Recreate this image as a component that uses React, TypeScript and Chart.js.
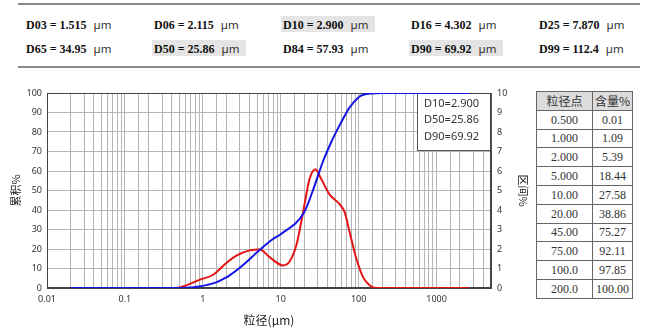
import React, { useEffect, useRef } from 'react';
import { Chart, registerables } from 'chart.js';

Chart.register(...registerables);

// ---- Data ----
// Cumulative curve (粒径 µm -> 累积 %)
const cumSizes = [0.02, 0.45, 0.5, 1, 1.515, 2, 2.115, 2.9, 4.302, 5, 7.87, 10, 20, 25.86, 34.95, 45, 57.93, 69.92, 75, 100, 112.4, 200, 2650];
const cumValues = [0, 0, 0.01, 1.09, 3, 5.39, 6, 10, 16, 18.44, 25, 27.58, 38.86, 50, 65, 75.27, 84, 90, 92.11, 97.85, 99, 100, 100];

// Interval curve (粒径 µm -> 区间 %)
const freqSizes = [0.02, 0.46, 0.6, 0.92, 1.36, 2.0, 2.7, 4.0, 5.4, 7.2, 10.7, 13, 15.9, 19.4, 23.5, 27.9, 33, 42.3, 56.9, 66, 76.7, 93.6, 114, 138, 168, 2650];
const freqValues = [0, 0, 0.12, 0.43, 0.68, 1.28, 1.66, 1.93, 1.97, 1.58, 1.16, 1.36, 2.2, 3.9, 5.6, 6.09, 5.6, 4.8, 4.3, 3.9, 2.86, 1.5, 0.56, 0.14, 0, 0];

const xTickLabels = ['0.01', '0.1', '1', '10', '100', '1000'];
const legendLines = ['D10=2.900', 'D50=25.86', 'D90=69.92'];

const row1Names = ['D03', 'D06', 'D10', 'D16', 'D25'];
const row1Values = ['1.515', '2.115', '2.900', '4.302', '7.870'];
const row2Names = ['D65', 'D50', 'D84', 'D90', 'D99'];
const row2Values = ['34.95', '25.86', '57.93', '69.92', '112.4'];
const highlightNames = ['D10', 'D50', 'D90'];

const tableHeader = ['粒径点', '含量%'];
const tableSizes = ['0.500', '1.000', '2.000', '5.000', '10.00', '20.00', '45.00', '75.00', '100.0', '200.0'];
const tableContents = ['0.01', '1.09', '5.39', '18.44', '27.58', '38.86', '75.27', '92.11', '97.85', '100.00'];

const CJK = '"Noto Sans CJK SC", "Noto Sans", sans-serif';
const SANS = '"Noto Sans", "DejaVu Sans", sans-serif';
const SERIF = '"Liberation Serif", "Times New Roman", serif';

const framePlugin = {
  id: 'framePlugin',
  beforeDatasetsDraw(chart: any) {
    const { ctx, chartArea } = chart;
    const { left, top, right, bottom } = chartArea;
    ctx.save();
    // legend box
    const bw = 74;
    const bh = 57;
    const bx = right - bw;
    const by = top;
    ctx.fillStyle = '#ffffff';
    ctx.fillRect(bx, by, bw, bh);
    ctx.strokeStyle = '#555555';
    ctx.lineWidth = 1;
    ctx.strokeRect(Math.round(bx) + 0.5, Math.round(by) + 0.5, bw, bh);
    ctx.fillStyle = '#333333';
    ctx.font = '11px ' + SANS;
    ctx.textBaseline = 'middle';
    ctx.textAlign = 'left';
    const offs = [11, 27, 44];
    legendLines.forEach((t, i) => ctx.fillText(t, bx + 7, by + offs[i]));
    // plot frame
    ctx.strokeStyle = '#444444';
    ctx.strokeRect(Math.round(left) + 0.5, Math.round(top) + 0.5, Math.round(right - left) - 1, Math.round(bottom - top) - 1);
    ctx.restore();
  },
};

function ChartCanvas() {
  const ref = useRef<HTMLCanvasElement>(null);
  useEffect(() => {
    if (!ref.current) return;
    const tickFont = { family: SANS, size: 9 };
    const chart = new Chart(ref.current, {
      type: 'scatter',
      data: {
        datasets: [
          {
            label: '累积',
            data: cumSizes.map((x, i) => ({ x, y: cumValues[i] })),
            yAxisID: 'y',
            showLine: true,
            borderColor: '#1414e6',
            backgroundColor: '#1414e6',
            borderWidth: 2,
            pointRadius: 0,
            cubicInterpolationMode: 'monotone',
            fill: false,
          },
          {
            label: '区间',
            data: freqSizes.map((x, i) => ({ x, y: freqValues[i] })),
            yAxisID: 'y1',
            showLine: true,
            borderColor: '#e61414',
            backgroundColor: '#e61414',
            borderWidth: 2,
            pointRadius: 0,
            cubicInterpolationMode: 'monotone',
            fill: false,
          },
        ],
      },
      options: {
        animation: false,
        responsive: false,
        maintainAspectRatio: false,
        layout: { padding: { top: 18, left: 0, right: 0, bottom: 0 } },
        plugins: { legend: { display: false }, tooltip: { enabled: false } },
        scales: {
          x: {
            type: 'logarithmic',
            position: 'bottom',
            min: 0.01,
            max: 5000,
            grid: { color: '#b4b4b4', drawTicks: false, lineWidth: 1 },
            border: { color: '#444444' },
            ticks: {
              autoSkip: false,
              maxRotation: 0,
              minRotation: 0,
              padding: 6,
              color: '#333333',
              font: tickFont,
              callback: (v: any) => {
                const e = Math.log10(Number(v));
                const r = Math.round(e);
                if (Math.abs(e - r) < 1e-6 && r >= -2 && r <= 3) return xTickLabels[r + 2];
                return '';
              },
            },
            title: {
              display: true,
              text: '粒径(µm)',
              color: '#222222',
              font: { family: CJK, size: 12 },
              padding: { top: 0, bottom: 8 },
            },
            afterFit: (s: any) => {
              s.height = 48;
            },
          },
          y: {
            position: 'left',
            min: 0,
            max: 100,
            grid: { color: '#b4b4b4', drawTicks: false, lineWidth: 1 },
            border: { color: '#444444' },
            ticks: { stepSize: 10, padding: 5, color: '#333333', font: tickFont },
            title: {
              display: true,
              text: '累积%',
              color: '#222222',
              font: { family: CJK, size: 11 },
              padding: { top: 9, bottom: 0 },
            },
            afterFit: (s: any) => {
              s.width = 47;
            },
          },
          y1: {
            position: 'right',
            min: 0,
            max: 10,
            grid: { display: false, drawTicks: false },
            border: { color: '#444444' },
            ticks: { stepSize: 1, padding: 6, color: '#333333', font: tickFont },
            title: {
              display: true,
              text: '区间%',
              color: '#222222',
              font: { family: CJK, size: 11 },
              padding: { top: 0, bottom: 0 },
            },
            afterFit: (s: any) => {
              s.width = 39;
            },
          },
        },
      },
      plugins: [framePlugin],
    } as any);
    return () => chart.destroy();
  }, []);
  return (
    <canvas
      ref={ref}
      width={530}
      height={261}
      style={{ position: 'absolute', left: 0, top: 75, width: 530, height: 261 }}
    />
  );
}

function SummaryRow({ names, values, top }: { names: string[]; values: string[]; top: number }) {
  const cols = [26, 154, 283, 411, 539];
  return (
    <>
      {names.map((n, i) => {
        const hl = highlightNames.includes(n);
        return (
          <div
            key={n}
            style={{
              position: 'absolute',
              left: cols[i] - 2,
              top,
              width: 94,
              height: 16,
              lineHeight: '16px',
              paddingLeft: 2,
              boxSizing: 'border-box',
              background: hl ? '#e4e4e4' : 'transparent',
              whiteSpace: 'nowrap',
            }}
          >
            <span style={{ fontFamily: SERIF, fontWeight: 'bold', fontSize: 12, color: '#111' }}>
              {n} = {values[i]}
            </span>
            <span style={{ fontFamily: SANS, fontSize: 11.5, color: '#333', marginLeft: 7 }}>µm</span>
          </div>
        );
      })}
    </>
  );
}

function SideTable() {
  const rowH = 17.8;
  const cellBase: React.CSSProperties = {
    border: '1px solid #666',
    height: rowH,
    padding: 0,
    textAlign: 'center',
    verticalAlign: 'middle',
    fontSize: 12,
    color: '#333',
    lineHeight: '12px',
  };
  return (
    <table
      style={{
        position: 'absolute',
        left: 536,
        top: 91,
        width: 96,
        borderCollapse: 'collapse',
        tableLayout: 'fixed',
        fontFamily: SERIF,
      }}
    >
      <colgroup>
        <col style={{ width: 56 }} />
        <col style={{ width: 40 }} />
      </colgroup>
      <tbody>
        <tr>
          {tableHeader.map((h) => (
            <td key={h} style={{ ...cellBase, background: '#dcdcdc', fontFamily: CJK, color: '#333' }}>
              {h}
            </td>
          ))}
        </tr>
        {tableSizes.map((s, i) => (
          <tr key={s}>
            <td style={cellBase}>{s}</td>
            <td style={cellBase}>{tableContents[i]}</td>
          </tr>
        ))}
      </tbody>
    </table>
  );
}

export default function App() {
  return (
    <div style={{ position: 'absolute', left: 0, top: 0, width: 650, height: 336, background: '#fff', overflow: 'hidden' }}>
      <div style={{ position: 'absolute', left: 18, top: 3, width: 622, height: 2, background: '#8a8a8a' }} />
      <div style={{ position: 'absolute', left: 18, top: 66, width: 622, height: 2, background: '#8a8a8a' }} />
      <SummaryRow names={row1Names} values={row1Values} top={16} />
      <SummaryRow names={row2Names} values={row2Values} top={40} />
      <ChartCanvas />
      <SideTable />
    </div>
  );
}
